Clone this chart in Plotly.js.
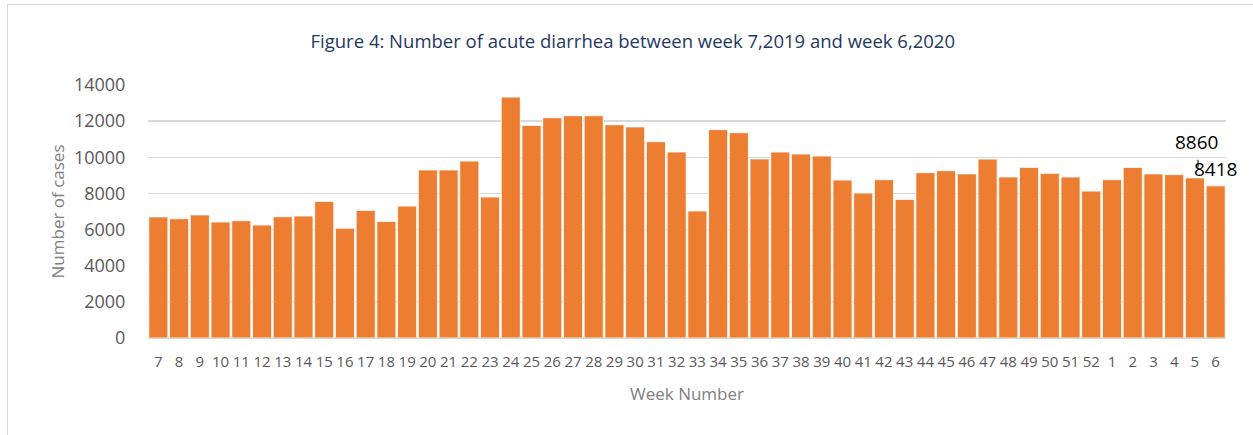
<!DOCTYPE html>
<html>
<head>
<meta charset="utf-8">
<script src="https://cdn.plot.ly/plotly-3.0.1.min.js"></script>
<style>
html,body{margin:0;padding:0;background:#fff;}
#wrap{position:relative;width:1253px;height:435px;overflow:hidden;}
#chart{width:1253px;height:435px;}
#frame{position:absolute;left:7px;top:4px;width:1300px;height:500px;border-left:1.5px solid #d9d9d9;border-top:1.5px solid #d9d9d9;pointer-events:none;}
</style>
</head>
<body>
<div id="wrap"><div id="chart"></div><div id="frame"></div></div>
<script>
const weeks = ['7','8','9','10','11','12','13','14','15','16','17','18','19','20','21','22','23','24','25','26','27','28','29','30','31','32','33','34','35','36','37','38','39','40','41','42','43','44','45','46','47','48','49','50','51','52','1','2','3','4','5','6'];
const cases = [6700,6600,6810,6420,6490,6250,6710,6750,7560,6070,7060,6450,7300,9300,9300,9790,7800,13330,11760,12190,12300,12300,11800,11680,10860,10290,7030,11530,11360,9910,10290,10180,10070,8740,8020,8760,7670,9150,9260,9080,9900,8910,9440,9110,8910,8130,8760,9440,9080,9040,8860,8418];
const labelWeeks = ['5','6'];
const labelValues = [8860,8418];

const font = "'Open Sans', sans-serif";
const idx0 = weeks.lastIndexOf(labelWeeks[0]);
const idx1 = weeks.lastIndexOf(labelWeeks[1]);
const data = [{
  type:'bar', x:weeks, y:cases,
  marker:{color:'#ED7D31', line:{color:'#ffffff', width:0.8}},
  hoverinfo:'x+y'
}];
const layout = {
  width:1253, height:435,
  margin:{l:148, r:27, t:85, b:97},
  paper_bgcolor:'rgba(0,0,0,0)', plot_bgcolor:'#fff',
  bargap:0.08,
  showlegend:false,
  title:{text:'Figure 4: Number of acute diarrhea between week 7,2019 and week 6,2020', font:{family:font, size:18.5, color:'#1F3864'}, x:0.505, xanchor:'center', y:0.905, yanchor:'middle'},
  xaxis:{type:'category', range:[-0.5, weeks.length-0.5], autorange:false, tickangle:0, tickfont:{family:font, size:15, color:'#595959'}, ticks:'outside', ticklen:10, tickcolor:'rgba(0,0,0,0)', showline:false, showgrid:false,
    title:{text:'Week Number', font:{family:font, size:17, color:'#808080'}, standoff:18}},
  yaxis:{range:[0,14000], autorange:false, dtick:2000, tickformat:'d', tickfont:{family:font, size:18, color:'#595959'}, ticks:'outside', ticklen:18, tickcolor:'rgba(0,0,0,0)', showgrid:true, gridcolor:'#d9d9d9', gridwidth:1.5, zeroline:true, zerolinecolor:'#d9d9d9', zerolinewidth:1.5, showline:false,
    title:{text:'Number of cases', font:{family:font, size:17, color:'#808080'}, standoff:4}},
  annotations:[
    {x:idx0, y:labelValues[0], text:String(labelValues[0]), showarrow:false, yanchor:'bottom', yshift:21, xshift:2, font:{family:font, size:19, color:'#000'}},
    {x:idx1, y:labelValues[1], text:String(labelValues[1]), showarrow:false, yanchor:'bottom', yshift:2, xshift:0, font:{family:font, size:19, color:'#000'}}
  ],
  shapes:[
    {type:'line', xref:'x', yref:'y', x0:idx0+0.15, x1:idx0+0.15, y0:9430, y1:9860, line:{color:'#000', width:1}}
  ]
};
Plotly.newPlot('chart', data, layout, {displayModeBar:false, staticPlot:true});
</script>
</body>
</html>
